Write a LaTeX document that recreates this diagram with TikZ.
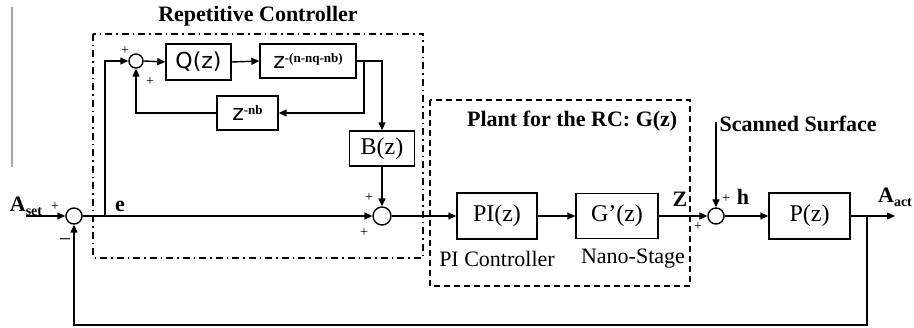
\documentclass[tikz,border=0pt]{standalone}
\usepackage{fontspec}
\setmainfont{Liberation Serif}
\newfontfamily\sansf{DejaVu Sans}
\usetikzlibrary{arrows.meta}
\begin{document}
\begin{tikzpicture}[x=1pt,y=-1pt,
  line width=1.4pt,
  >={Triangle[length=8pt,width=7pt]},
  blk/.style={draw, inner sep=0pt, font=\fontsize{24}{26}\selectfont},
  sumc/.style={draw, circle, inner sep=0pt, minimum size=16pt},
  sg/.style={font=\fontsize{14}{14}\selectfont, inner sep=0pt},
  lbl/.style={font=\fontsize{22}{24}\selectfont\bfseries, inner sep=0pt},
  txt/.style={font=\fontsize{22}{24}\selectfont, inner sep=0pt},
  dashdot/.style={dash pattern=on 7pt off 4pt on 1.5pt off 4pt, line width=1.2pt},
  dashbox/.style={dash pattern=on 6pt off 4pt, line width=1.2pt},
]
\useasboundingbox (0,0) rectangle (914,328);

% stray gray line
\draw[gray!70, line width=1.5pt] (12,7) -- (12,167);

% frames
\draw[dashdot] (93,34) rectangle (423,258);
\draw[dashbox] (430,100) rectangle (690,286);
\node[lbl] (trc) at (258,16) {Repetitive Controller};
\node[lbl, anchor=east] (tpl) at (678,121) {Plant for the RC: G(z)};

% nodes
\node[sumc] (s0) at (74,216) {};
\node[sumc, minimum size=14pt] (s1) at (136,61) {};
\node[blk, minimum width=65pt, minimum height=36pt, font=\fontsize{22}{24}\selectfont\sansf] (Q) at (198.5,62) {Q(z)};
\node[blk, minimum width=96pt, minimum height=34pt] (zd) at (308,61) {{\sansf\fontsize{22}{24}\selectfont z}\raisebox{6pt}{\fontsize{13}{13}\selectfont\bfseries -(n-nq-nb)}};
\node[blk, minimum width=61pt, minimum height=34pt] (znb) at (247.5,113) {{\sansf\fontsize{22}{24}\selectfont z}\raisebox{6pt}{\fontsize{13}{13}\selectfont\bfseries -nb}};
\node[blk, minimum width=65pt, minimum height=35pt] (B) at (382,148.5) {B(z)};
\node[sumc, minimum size=18pt] (s2) at (382,216) {};
\node[blk, minimum width=80pt, minimum height=46pt] (PI) at (497,216) {PI(z)};
\node[blk, minimum width=82pt, minimum height=45pt] (G) at (617,216) {G’(z)};
\node[sumc] (s3) at (716,216) {};
\node[blk, minimum width=81pt, minimum height=46pt] (P) at (809.5,216) {P(z)};

\coordinate (in) at (26,216);
\coordinate (eb) at (105,216);
\coordinate (zb) at (364,61);
\coordinate (ss) at (716,122);
\coordinate (out) at (895,216);
\coordinate (ob) at (867,216);
\coordinate (bot) at (867,325);

% connectors
\draw[->] (in) -- (s0.west);
\draw[->] (s0.east) -- (s2.west);
\draw[->] (eb) |- (s1.west);
\draw[->] (s1.east) -- (Q.west);
\draw[->] (Q.east) -- (zd.west);
\draw[->] (zd.east) -| (B.north);
\draw[->] (zb) |- (znb.east);
\draw[->] (znb.west) -| (s1.south);
\draw[->] (B.south) -- (s2.north);
\draw[->] (s2.east) -- (PI.west);
\draw[->] (PI.east) -- (G.west);
\draw[->] (G.east) -- (s3.west);
\draw[->] (ss) -- (s3.north);
\draw[->] (s3.east) -- (P.west);
\draw[->] (P.east) -- (out);
\draw[->] (ob) -- (bot) -| (s0.south);

% labels
\node[lbl] (aset) at (26,206) {A\raisebox{-4pt}{\fontsize{14}{14}\selectfont set}};
\node[sg] (p0) at (55,207) {+};
\node[txt] (m0) at (65,243) {−};
\node[lbl] (le) at (120,206) {e};
\node[sg] (p1a) at (125,51) {+};
\node[sg] (p1b) at (150,82) {+};
\node[sg] (p2a) at (369,198) {+};
\node[sg] (p2b) at (364,233) {+};
\node[txt] (lpi) at (497,259) {PI Controller};
\node[txt] (lns) at (633,259) {Nano-Stage};
\node[lbl] (lz) at (680,199) {Z};
\node[sg] (p3a) at (698,227) {+};
\node[sg] (p3b) at (726,199) {+};
\node[lbl] (lh) at (743,197) {h};
\node[lbl, anchor=west] (lss) at (719,124) {Scanned Surface};
\node[lbl] (aact) at (895,197) {A\raisebox{-4pt}{\fontsize{14}{14}\selectfont act}};
\end{tikzpicture}
\end{document}
